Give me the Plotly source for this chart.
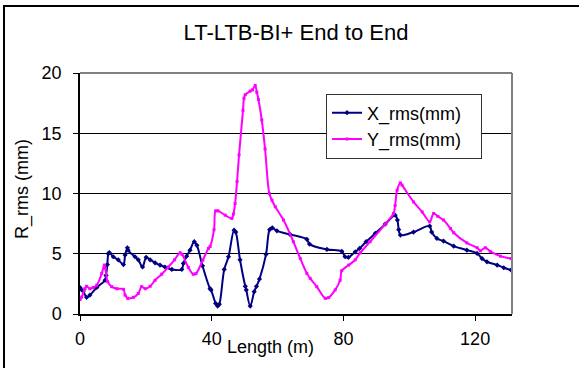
import plotly.graph_objects as go

# ---- data ----
x_len = [0, 0.5, 1.0, 2.0, 3.0, 5.1, 7.6, 7.9, 8.3, 8.6, 8.9, 10.1, 11.6, 13.2, 13.7, 14.4, 14.6,
         16.7, 17.7, 19.0, 20.1, 21.3, 22.8, 24.3, 25.8, 27.9, 30.9, 31.4, 32.4, 33.4, 34.7, 35.5,
         37.2, 39.5, 39.8, 41.2, 41.8, 42.3, 43.8, 45.1, 46.8, 47.3, 48.6, 50.2, 50.5, 51.7, 52.9,
         53.6, 54.5, 56.5, 57.6, 58.4, 59.8, 63.8, 68.9, 69.7, 75.0, 79.5, 80.5, 81.5, 83.6, 84.9,
         86.9, 89.7, 92.7, 95.7, 96.4, 96.8, 97.3, 101.3, 106.2, 106.8, 108.4, 110.4, 113.5, 117.5,
         120.6, 122.1, 123.6, 126.7, 128.7, 130.9]
x_rms = [2.2, 2.0, 1.9, 1.38, 1.57, 2.2, 2.8, 3.2, 4.1, 5.0, 5.1, 4.75, 4.5, 4.1, 4.9, 5.5, 5.3,
         4.75, 4.5, 3.9, 4.7, 4.5, 4.25, 4.06, 3.9, 3.7, 3.7, 4.2, 4.8, 5.3, 6.0, 5.7,
         4.0, 2.1, 2.0, 0.88, 0.66, 0.8, 3.7, 4.75, 6.96, 6.8, 4.5, 2.3, 2.0, 0.66, 1.85,
         2.3, 2.9, 4.95, 7.0, 7.15, 6.9, 6.6, 6.2, 5.8, 5.36, 5.2, 4.75, 4.7, 5.16, 5.44,
         6.0, 6.7, 7.46, 8.2, 7.8, 7.0, 6.55, 6.8, 7.3, 6.8, 6.27, 6.05, 5.63, 5.3,
         5.03, 4.6, 4.33, 4.06, 3.84, 3.65]

y_len = [0, 0.5, 1.5, 2.0, 3.0, 4.0, 5.1, 6.6, 7.4, 7.7, 8.4, 9.6, 11.2, 13.2, 13.7, 14.5, 16.2,
         17.7, 18.7, 19.8, 21.3, 22.8, 24.8, 26.8, 28.7, 30.4, 31.0, 32.9, 34.4, 35.2, 37.3, 39.0,
         39.5, 40.7, 41.2, 41.9, 44.1, 46.1, 46.6, 47.1, 47.7, 48.3, 49.5, 49.8, 50.2, 51.7, 52.4,
         53.2, 53.7, 54.2, 55.2, 56.2, 57.5, 58.3, 59.3, 61.8, 64.8, 66.9, 68.9, 69.9, 71.9, 74.5,
         75.5, 77.5, 79.0, 79.5, 81.6, 83.6, 85.1, 88.1, 92.7, 95.2, 95.7, 96.3, 97.3, 97.8, 101.3,
         103.9, 106.2, 107.4, 108.7, 110.4, 112.5, 113.5, 117.5, 120.6, 121.6, 123.1, 124.6, 127.7,
         130.9]
y_rms = [1.2, 1.4, 2.1, 2.3, 2.1, 2.2, 2.4, 3.37, 4.06, 3.8, 2.68, 2.27, 2.1, 2.05, 1.57, 1.3, 1.38,
         1.7, 2.27, 2.1, 2.3, 2.8, 3.3, 3.9, 4.5, 5.08, 4.95, 3.87, 3.3, 3.35, 4.47, 5.44,
         5.6, 7.0, 8.56, 8.56, 8.2, 7.93, 8.3, 9.17, 11.0, 13.2, 16.9, 17.9, 18.2, 18.5, 18.6,
         18.97, 18.4, 17.8, 16.1, 13.7, 10.0, 9.44, 8.9, 7.8, 6.0, 4.6, 3.37, 2.96, 2.27, 1.3,
         1.36, 2.0, 2.8, 3.6, 4.06, 4.5, 5.08, 6.0, 7.46, 8.34, 9.0, 10.27, 10.88, 10.7, 9.3,
         8.48, 7.65, 8.34, 8.1, 7.8, 7.1, 6.74, 5.9, 5.5, 5.25, 5.5, 5.2, 4.8,
         4.6]

x_ticks = [0, 40, 80, 120]
y_ticks = [0, 5, 10, 15, 20]

FONT = "Liberation Sans, Arial, sans-serif"

fig = go.Figure()
fig.add_trace(go.Scatter(
    x=x_len, y=x_rms, name="X_rms(mm)   ", mode="lines+markers",
    line=dict(color="#000080", width=2, shape="spline", smoothing=1.0),
    marker=dict(symbol="diamond", size=4, color="#000080"),
))
fig.add_trace(go.Scatter(
    x=y_len, y=y_rms, name="Y_rms(mm)   ", mode="lines+markers",
    line=dict(color="#FF00FF", width=2, shape="spline", smoothing=1.0),
    marker=dict(symbol="square", size=3, color="#FF00FF"),
))

L, R, T, B = 80, 67, 73, 54
W, H = 579, 368
pw = W - L - R
ph = H - T - B

def px_x(p):
    return (p - L) / pw

def px_y(p):
    return (H - B - p) / ph

fig.update_layout(
    width=W, height=H, autosize=False,
    margin=dict(l=L, r=R, t=T, b=B, pad=0),
    paper_bgcolor="white", plot_bgcolor="white",
    font=dict(family=FONT, size=18, color="black"),
    title=dict(text="LT-LTB-BI+ End to End", font=dict(family=FONT, size=22, color="black"),
               xref="container", yref="container", x=296 / W, y=1 - 32 / H,
               xanchor="center", yanchor="middle"),
    showlegend=True,
    legend=dict(x=px_x(326), y=px_y(93.5), xanchor="left", yanchor="top",
                bgcolor="white", bordercolor="#333333", borderwidth=1,
                font=dict(family=FONT, size=18, color="black"),
                tracegroupgap=0, itemwidth=30),
    xaxis=dict(range=[0, 131.2], tickvals=x_ticks, ticktext=[str(v) for v in x_ticks],
               showgrid=False, zeroline=False, showline=True, linecolor="black", linewidth=1.5,
               ticks="outside", ticklen=5, tickcolor="black", tickwidth=1,
               ticklabelstandoff=3, tickfont=dict(size=18)),
    yaxis=dict(range=[0, 20], tickvals=y_ticks, ticktext=[str(v) for v in y_ticks],
               showgrid=True, gridcolor="black", gridwidth=1,
               zeroline=False, showline=True, linecolor="black", linewidth=1.5,
               ticks="outside", ticklen=5, tickcolor="black", tickwidth=1,
               ticklabelstandoff=8, tickfont=dict(size=18)),
    annotations=[
        dict(text="R_rms (mm)", textangle=-90, xref="paper", yref="paper",
             x=px_x(22), y=px_y(189), xanchor="center", yanchor="middle",
             showarrow=False, font=dict(family=FONT, size=18)),
        dict(text="Length (m)", xref="paper", yref="paper",
             x=px_x(270), y=px_y(347), xanchor="center", yanchor="middle",
             showarrow=False, font=dict(family=FONT, size=18)),
    ],
    shapes=[
        dict(type="line", xref="paper", yref="paper", x0=0, x1=1, y0=1, y1=1,
             line=dict(color="#808080", width=2), layer="above"),
        dict(type="line", xref="paper", yref="paper", x0=1, x1=1, y0=0, y1=1,
             line=dict(color="#808080", width=2), layer="above"),
        dict(type="rect", xref="paper", yref="paper",
             x0=px_x(4), x1=px_x(700), y0=px_y(500), y1=px_y(6),
             line=dict(color="black", width=2), fillcolor="rgba(0,0,0,0)", layer="below"),
    ],
)

fig.write_html("out.html")
